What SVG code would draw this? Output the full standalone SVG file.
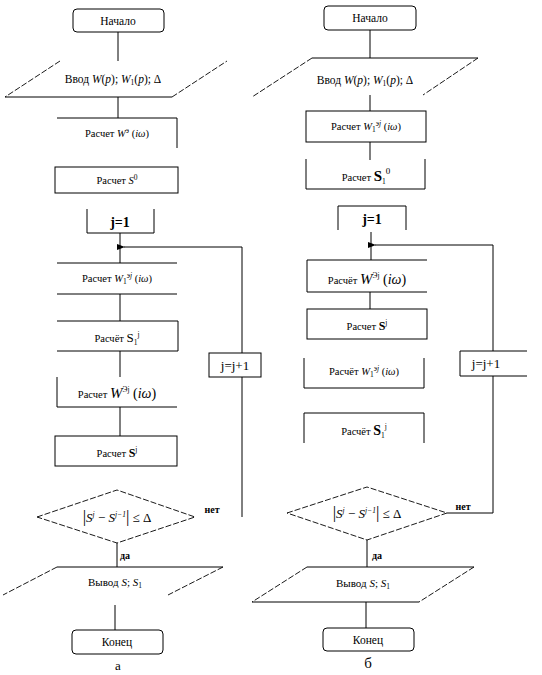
<svg xmlns="http://www.w3.org/2000/svg" width="542" height="675" viewBox="0 0 542 675">
<style>
.s{fill:none;stroke:#000;stroke-width:1}
.w{fill:#fff;stroke:#000;stroke-width:1}
.d{fill:none;stroke:#000;stroke-width:0.9;stroke-dasharray:6,2}
text{font-family:"Liberation Serif","DejaVu Serif","Times New Roman",serif}
.t{font-size:10.5px;fill:#000;text-anchor:middle}
.b{font-weight:bold;fill:#000;text-anchor:middle}
.i{font-style:italic}
.sm{font-size:7.5px}
</style>
<defs>
<marker id="ah" markerWidth="8" markerHeight="6" refX="1" refY="3" orient="auto" markerUnits="userSpaceOnUse">
<path d="M8,0 L0,3 L8,6 Z" fill="#000"/>
</marker>
</defs>
<rect width="542" height="675" fill="#fff"/>

<g id="connectors">
<path class="s" d="M118,32 V61"/>
<path class="s" d="M118,97 V118"/>
<path class="s" d="M120,233 V263"/>
<path class="s" d="M120,294 V321"/>
<path class="s" d="M120,351 V377"/>
<path class="s" d="M120,407 V436"/>
<path class="s" d="M117,543 V567"/>
<path class="s" d="M115,605 V630"/>
<path class="s" d="M242,517 V247 H124" marker-end="url(#ah)"/>
<path class="s" d="M370,30 V58"/>
<path class="s" d="M370,95 V111"/>
<path class="s" d="M370,142 V160"/>
<path class="s" d="M371,232 V260"/>
<path class="s" d="M370,292 V309"/>
<path class="s" d="M447,513 H493 V245 H375" marker-end="url(#ah)"/>
<path class="s" d="M367,540 V567"/>
<path class="s" d="M366,602 V628"/>
</g>

<g id="a-start">
<rect class="s" x="73" y="9" width="91" height="23" rx="4"/>
<text class="t" x="118" y="25" style="font-size:11.5px">Начало</text>
</g>
<g id="a-input">
<path class="d" d="M60,61 L5,97"/>
<path class="s" d="M5,97 H172"/>
<path class="d" d="M172,97 L227,61"/>
<text class="t" x="113" y="83" style="font-size:11.5px">Ввод <tspan class="i">W</tspan>(<tspan class="i">p</tspan>); <tspan class="i">W</tspan><tspan class="sm" dy="2">1</tspan><tspan dy="-2">(</tspan><tspan class="i">p</tspan>);  Δ</text>
</g>
<g id="a-calc-w">
<path class="s" d="M57,118 H177 V148"/>
<text class="t" x="117" y="137">Расчет <tspan class="i">W</tspan><tspan class="sm" dy="-4">э</tspan><tspan dy="4"> (</tspan><tspan class="i">iω</tspan>)</text>
</g>
<g id="a-calc-s0">
<rect class="s" x="55" y="167" width="123" height="26"/>
<text class="t" x="117" y="184">Расчет <tspan class="i">S</tspan><tspan class="sm" dy="-4">0</tspan></text>
</g>
<g id="a-j1">
<path class="s" d="M87,209 V233 H154 V209"/>
<text class="b" x="120" y="227" style="font-size:14px">j=1</text>
</g>
<g id="a-calc-w1">
<path class="s" d="M57,263 H177 M57,294 H177"/>
<text class="t" x="117" y="282">Расчет <tspan class="i">W</tspan><tspan class="sm" dy="2">1</tspan><tspan class="sm i" dy="-6">эj</tspan><tspan dy="4"> (</tspan><tspan class="i">iω</tspan>)</text>
</g>
<g id="a-calc-s1">
<path class="s" d="M57,321 H178 V351 H57"/>
<text class="t" x="117" y="342">Расчёт <tspan style="font-size:13px">S</tspan><tspan class="sm" dy="3">1</tspan><tspan class="sm" dy="-8">j</tspan></text>
</g>
<g id="a-calc-w2">
<path class="s" d="M57,377 V407 H177"/>
<text class="t" x="117" y="398">Расчет <tspan class="i" style="font-size:15px">W</tspan><tspan class="sm" dy="-6">Эj</tspan><tspan dy="6" style="font-size:14px"> (</tspan><tspan class="i" style="font-size:14px">iω</tspan><tspan style="font-size:14px">)</tspan></text>
</g>
<g id="a-calc-s">
<rect class="s" x="55" y="436" width="122" height="30"/>
<text class="t" x="117" y="457">Расчет <tspan style="font-size:12px;font-weight:bold">S</tspan><tspan class="sm" dy="-5">j</tspan></text>
</g>
<g id="a-decision">
<path class="d" d="M37,517 L117,490 L195,517 L117,543 Z"/>
<text class="t" x="117" y="522" style="font-size:13px"><tspan style="font-size:17px">|</tspan><tspan class="i">S</tspan><tspan class="sm i" dy="-5">j</tspan><tspan dy="5"> − </tspan><tspan class="i">S</tspan><tspan class="sm i" dy="-5">j−1</tspan><tspan dy="5" style="font-size:17px">|</tspan><tspan> ≤ Δ</tspan></text>
<text class="b" x="212" y="513" style="font-size:10px">нет</text>
<text class="b" x="125" y="559" style="font-size:10px">да</text>
</g>
<g id="a-output">
<path class="s" d="M57,567 H223"/>
<path class="d" d="M57,567 L3,595 M223,567 L168,595"/>
<text class="t" x="115" y="586" style="font-size:11px">Вывод  <tspan class="i">S</tspan>; <tspan class="i">S</tspan><tspan class="sm" dy="2">1</tspan></text>
</g>
<g id="a-end">
<rect class="s" x="72" y="630" width="91" height="24" rx="4"/>
<text class="t" x="117" y="646" style="font-size:11.5px">Конец</text>
<text class="t" x="118" y="670" style="font-size:13px">а</text>
</g>
<g id="a-inc">
<rect class="w" x="209" y="353" width="52" height="24"/>
<text class="t" x="235" y="370" style="font-size:13px">j=j+1</text>
</g>

<g id="b-start">
<rect class="s" x="324" y="6" width="92" height="24" rx="4"/>
<text class="t" x="370" y="22" style="font-size:11.5px">Начало</text>
</g>
<g id="b-input">
<path class="s" d="M312,58 H478"/>
<path class="d" d="M312,58 L252,97 M478,58 L423,95"/>
<text class="t" x="365" y="84" style="font-size:11.5px">Ввод <tspan class="i">W</tspan>(<tspan class="i">p</tspan>); <tspan class="i">W</tspan><tspan class="sm" dy="2">1</tspan><tspan dy="-2">(</tspan><tspan class="i">p</tspan>);  Δ</text>
</g>
<g id="b-calc-w1">
<rect class="s" x="306" y="111" width="120" height="31"/>
<text class="t" x="366" y="130">Расчет <tspan class="i">W</tspan><tspan class="sm" dy="2">1</tspan><tspan class="sm i" dy="-6">эj</tspan><tspan dy="4"> (</tspan><tspan class="i">iω</tspan>)</text>
</g>
<g id="b-calc-s10">
<path class="s" d="M306,159 V189 H425 V159"/>
<text class="t" x="366" y="181">Расчет <tspan style="font-size:15px;font-weight:bold">S</tspan><tspan class="sm" dy="3">1</tspan><tspan class="sm" style="font-size:9px" dy="-10">0</tspan></text>
</g>
<g id="b-j1">
<path class="s" d="M338,230 V206 H406 V230"/>
<text class="b" x="372" y="224" style="font-size:14px">j=1</text>
</g>
<g id="b-calc-w">
<path class="s" d="M427,260 H307 V292 H427"/>
<text class="t" x="367" y="284">Расчёт <tspan class="i" style="font-size:15px">W</tspan><tspan class="sm" dy="-6">Эj</tspan><tspan dy="6" style="font-size:14px"> (</tspan><tspan class="i" style="font-size:14px">iω</tspan><tspan style="font-size:14px">)</tspan></text>
</g>
<g id="b-calc-s">
<rect class="s" x="307" y="309" width="120" height="30"/>
<text class="t" x="367" y="330">Расчет <tspan style="font-size:12px;font-weight:bold">S</tspan><tspan class="sm" dy="-5">j</tspan></text>
</g>
<g id="b-calc-w1b">
<path class="s" d="M304,358 V388 H424 V358"/>
<text class="t" x="364" y="375">Расчёт <tspan class="i">W</tspan><tspan class="sm" dy="2">1</tspan><tspan class="sm i" dy="-6">эj</tspan><tspan dy="4"> (</tspan><tspan class="i">iω</tspan>)</text>
</g>
<g id="b-calc-s1">
<path class="s" d="M304,443 V413 H424 V443"/>
<text class="t" x="364" y="435">Расчёт <tspan style="font-size:14px;font-weight:bold">S</tspan><tspan class="sm" dy="3">1</tspan><tspan class="sm" dy="-9">j</tspan></text>
</g>
<g id="b-inc">
<path class="w" d="M527,351 H460 V376 H527"/>
<rect x="461" y="352" width="70" height="23" fill="#fff"/>
<text class="t" x="486" y="368" style="font-size:13px">j=j+1</text>
</g>
<g id="b-decision">
<path class="d" d="M287,513 L367,487 L447,513 L367,540 Z"/>
<text class="t" x="367" y="518" style="font-size:13px"><tspan style="font-size:17px">|</tspan><tspan class="i">S</tspan><tspan class="sm i" dy="-5">j</tspan><tspan dy="5"> − </tspan><tspan class="i">S</tspan><tspan class="sm i" dy="-5">j−1</tspan><tspan dy="5" style="font-size:17px">|</tspan><tspan> ≤ Δ</tspan></text>
<text class="b" x="463" y="510" style="font-size:10px">нет</text>
<text class="b" x="377" y="559" style="font-size:10px">да</text>
</g>
<g id="b-output">
<path class="s" d="M307,567 H474 M252,602 H419"/>
<path class="d" d="M307,567 L252,602 M474,567 L419,602"/>
<text class="t" x="363" y="587" style="font-size:11px">Вывод  <tspan class="i">S</tspan>; <tspan class="i">S</tspan><tspan class="sm" dy="2">1</tspan></text>
</g>
<g id="b-end">
<rect class="s" x="323" y="628" width="91" height="23" rx="4"/>
<text class="t" x="368" y="644" style="font-size:11.5px">Конец</text>
<text class="t" x="368" y="668" style="font-size:15px">б</text>
</g>
</svg>
